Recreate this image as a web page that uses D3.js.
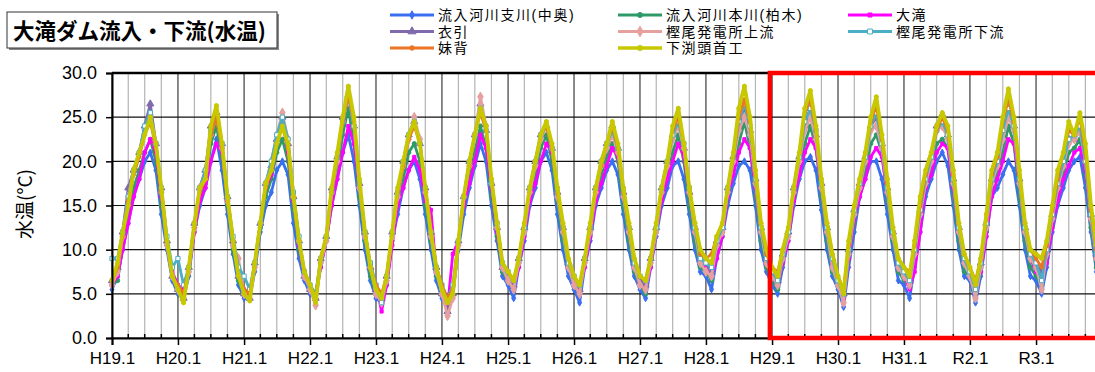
<!DOCTYPE html>
<html>
<head>
<meta charset="utf-8">
<script src="https://cdn.jsdelivr.net/npm/d3@7"></script>
<style>
  body { margin: 0; background: #fff; }
  svg { display: block; }
</style>
</head>
<body>
<svg id="chart" width="1095" height="372"></svg>
<script>
// monthly water temperature, Jan 2007 (H19.1) .. Dec 2021 (R3.12)
const startYear = 2007
const tickLabels = ['H19.1','H20.1','H21.1','H22.1','H23.1','H24.1','H25.1','H26.1','H27.1','H28.1','H29.1','H30.1','H31.1','R2.1','R3.1']
const yTicks = [0, 5, 10, 15, 20, 25, 30]

const seriesNames = ['流入河川支川(中奥)', '流入河川本川(柏木)', '大滝', '衣引', '樫尾発電所上流', '樫尾発電所下流', '妹背', '下渕頭首工']
const seriesColors = ['#3a6ff0', '#2e9a68', '#ff00ff', '#7f6aae', '#e6a0a0', '#4aaec4', '#ec7424', '#c8c800']

const nakaoku = [
  5.5, 7, 10, 13, 16, 18, 20, 21, 19, 14, 10, 6.5,
  5, 4.5, 7, 12, 15, 17, 20, 22.5, 19, 14, 9.5, 6,
  4.5, 4.5, 7.5, 12, 15, 16.5, 19, 20, 18.5, 13, 9, 6.5,
  5, 4.5, 8, 11, 15, 18, 21, 23, 20, 15, 10, 6.5,
  4.5, 4, 6, 11, 14, 17, 19, 20, 18, 14, 10, 6.5,
  4.5, 4, 5, 10, 14, 17, 19.5, 22, 20, 15, 11, 7,
  6, 4.5, 8, 11, 15, 17, 20, 21, 19, 14, 10, 7,
  5.5, 4, 8, 11, 15, 17, 19, 20, 18.5, 14, 10, 7,
  5.5, 4.5, 8, 11.5, 15, 17, 19.5, 20, 18, 14, 10, 7.5,
  7, 5.5, 9, 11.5, 15, 17.5, 19.5, 20, 19, 15, 10, 7.5,
  6, 5, 8, 11, 15, 18, 20, 20.5, 19, 14.5, 10, 7,
  5.5, 3.5, 8, 12, 16, 18, 20, 20, 18, 14, 10, 6.5,
  6, 4.5, 8, 12, 16, 18, 20, 21, 19.5, 15, 10, 7,
  6.5, 4, 7, 11.5, 16, 17, 18.5, 20, 19, 15, 10, 7,
  6.5, 5, 8, 12, 15, 17, 19, 20, 20.5, 17, 12, 7.5
]
const kashiwagi = [
  6, 6.5, 10.5, 14, 17, 19, 21, 22.5, 20, 15, 10.5, 7,
  5.5, 5.5, 7.5, 12.5, 16, 17.5, 22, 24, 20.5, 15, 10, 6.5,
  5, 5, 8, 12.5, 16, 18, 21, 22.5, 20, 14.5, 10, 7,
  5.5, 4.5, 8.5, 11, 16, 19, 23, 26, 22, 16, 11, 7,
  5, 4.5, 6.5, 11.5, 15.5, 18, 21, 22, 20, 15, 11, 7,
  5, 4.5, 5, 10.5, 15, 18.5, 21, 24, 21.5, 16, 11.5, 7.5,
  6.5, 5.5, 8.5, 12, 16, 18.5, 21.5, 23, 20, 15.5, 11, 8,
  6, 5, 8.5, 12, 16, 18.5, 20.5, 22, 20, 15, 11, 7.5,
  6, 5, 8.5, 12, 16, 18.5, 21, 23, 20, 15, 11, 8,
  7.5, 6.5, 10, 12, 16, 19, 22, 24.5, 21.5, 16, 11, 8,
  6.5, 5.5, 8.5, 11.5, 16, 19, 22, 24, 21.5, 16, 11, 7.5,
  6, 4.5, 9, 13, 17, 19, 22, 23, 21, 15.5, 11, 7.5,
  6.5, 6, 9, 13, 17, 19, 22, 22.5, 21.5, 16, 11, 7.5,
  7, 5, 7.5, 12, 17, 18.5, 21, 24, 22, 16, 11, 8,
  7, 6, 9, 13, 16, 18.5, 21, 21.5, 22.5, 18.5, 12.5, 8
]
const otaki = [
  6, 7, 10, 13, 16, 18, 21, 22.5, 21, 16, 11, 7.5,
  6, 5.5, 7.5, 12, 15.5, 17, 20, 22, 21, 16, 11, 7,
  5.5, 5, 8, 13, 17, 18.5, 22, 25, 21, 15.5, 10.5, 7,
  5.5, 5, 8, 11, 15, 18, 21, 24, 22, 17, 12, 8,
  6, 3, 6, 10.5, 15, 17, 19, 20.5, 19, 15.5, 14.5, 7.5,
  6, 3.5, 9.5, 11, 15, 17.5, 20, 23, 21.5, 17, 12, 8,
  7, 5.5, 8, 11.5, 15.5, 17.5, 20, 22, 21, 17, 12.5, 8.5,
  6.5, 5.5, 8, 11.5, 15.5, 17.5, 19.5, 21.5, 20.5, 17, 12, 8.5,
  6.5, 5.5, 8, 12, 15.5, 18, 20, 22, 20.5, 16.5, 12, 9,
  8, 7, 9, 11.5, 16, 18.5, 21, 22.5, 21.5, 17, 12, 9,
  7, 6, 8.5, 11, 15.5, 18.5, 21, 22.5, 21.5, 17, 12, 8.5,
  6.5, 4.5, 9, 13.5, 16, 18, 20.5, 21.5, 20.5, 16.5, 12, 8,
  7, 5.5, 7.5, 12, 17, 18.5, 21, 22, 21.5, 17, 12, 8.5,
  7.5, 6, 7.5, 11.5, 16, 18, 20, 22.5, 22, 17.5, 12, 9,
  7.5, 6.5, 8.5, 12.5, 15.5, 18, 19.5, 21, 21.5, 19, 13.5, 9
]
const kinubiki = [
  6.5, 8, 12, 17, 19, 21, 24, 26.5, 22, 17, 11, 7,
  5.5, 4.5, 8, 13, 17, 19, 24, 25.5, 22, 16, 11, 7,
  5, 4.5, 8.5, 13, 17.5, 19.5, 22.5, 25, 22, 16, 11, 7,
  5.5, 4.5, 9, 11.5, 17, 20.5, 25, 27.5, 24, 17.5, 12, 8,
  5.5, 4.5, 7, 12, 16.5, 20, 23, 24.5, 22, 17, 12, 8,
  5, 3, 5, 11, 16, 20, 23, 26.5, 23.5, 17.5, 12.5, 8,
  7, 6, 9, 12.5, 17, 20, 23, 24, 21.5, 16.5, 12.5, 8.5,
  6.5, 5.5, 9, 12.5, 17, 20, 22, 24, 21.5, 16.5, 12.5, 8.5,
  6.5, 6, 9, 12.5, 17, 20, 23, 24.5, 21.5, 16.5, 12.5, 9,
  8.5, 7.5, 11, 12.5, 17, 20.5, 24, 26, 23.5, 18, 12.5, 9,
  7.5, 6.5, 9.5, 12, 17, 20.5, 24, 26, 23, 17.5, 12.5, 9,
  6.5, 5, 10, 14.5, 17.5, 20.5, 24, 25, 22, 17, 12, 8.5,
  7.5, 6.5, 10, 14.5, 18, 20.5, 24, 25.3, 23, 18, 12.5, 9,
  7.5, 5.5, 8.5, 13, 18, 20, 23.5, 26, 24, 18, 12.5, 9.5,
  8.5, 7.5, 10, 14, 17.5, 20, 22.5, 22.5, 23.5, 20, 14, 9.5
]
const kashioUp = [
  6, 7.5, 11.5, 16, 19, 21, 23.5, 25, 22, 16.5, 10.5, 7,
  5.5, 4.5, 7.5, 12.5, 17, 19, 23, 25, 21.5, 15.5, 10.5, 9,
  5, 4.5, 8, 13, 17.5, 20, 23, 25.5, 22.5, 16, 11, 7,
  5.5, 3.7, 8.5, 11, 16.5, 20, 24.5, 27.5, 24, 17, 11.5, 8,
  5, 4, 6.5, 11.5, 16, 19.5, 22.5, 25, 22.5, 16.5, 11.5, 7.5,
  5, 2.5, 4.5, 10.5, 16, 19.5, 23, 27.3, 24, 17.5, 12.5, 8,
  6.5, 5.5, 8.5, 12, 16.5, 19.5, 22.5, 24, 21.5, 16, 12, 8,
  6, 5, 8.5, 12, 16.5, 19.5, 21.5, 23, 21, 16, 12, 8,
  6, 5.5, 8.5, 12, 16.5, 19.5, 22.5, 24, 21.5, 16.5, 12, 8.5,
  7.5, 7, 10.5, 12, 16.5, 20, 23.5, 25, 23, 17.5, 12, 8.5,
  7, 6, 9, 11.5, 16.5, 20, 23.5, 25, 22.5, 17, 12, 8,
  6, 4, 9.5, 14, 17, 20, 23.5, 24, 21.5, 16.5, 11.5, 8,
  7, 6, 9.5, 14, 17.5, 20, 23.5, 24, 22.5, 17.5, 12, 8.5,
  7, 4.5, 8, 12.5, 17.5, 19.5, 22.5, 25, 23.5, 17.5, 12, 9,
  8, 5.5, 9.5, 13.5, 17, 19.5, 22, 22.5, 23.5, 20, 13.5, 9
]
const kashioDown = [
  9, 9, 12, 16, 19, 21, 24, 25.5, 22, 17, 11.5, 8,
  9, 6, 8, 13, 17, 19, 23.5, 25, 22, 16, 11.5, 8,
  7, 5.5, 8.5, 13, 17.5, 20, 23, 25, 22.5, 16.5, 11.5, 7.5,
  6, 5, 9, 11.5, 16.5, 20.5, 24.5, 27.5, 24, 17.5, 12, 8.5,
  6, 4, 7, 12, 16.5, 20, 23, 24.5, 22, 17, 12, 8,
  6, 4.5, 6, 11, 16, 20, 23, 26, 23.5, 17.5, 13, 8.5,
  7.5, 6.5, 9, 12.5, 17, 20, 23, 24, 21.5, 16.5, 12.5, 8.5,
  7, 6, 9, 12.5, 17, 20, 22, 23.5, 21.5, 16.5, 12.5, 8.5,
  7, 6.5, 9, 12.5, 17, 20, 23, 24.5, 22, 17, 12.5, 9,
  8.5, 8, 11, 12.5, 17, 20.5, 24.5, 26.5, 24, 18, 12.5, 9,
  7.5, 6.5, 9.5, 12, 17, 20.5, 24.5, 26, 23.5, 17.5, 12.5, 9,
  6.5, 5, 10, 14.5, 17.5, 20.5, 24, 25.5, 22, 17, 12, 8.5,
  7.5, 6.5, 10, 14.5, 18, 20.5, 23.5, 24.5, 23, 18, 12.5, 9,
  7.5, 5.5, 8.5, 13, 18, 20, 23.5, 26, 24, 18, 12.5, 9.5,
  8.5, 6.5, 10, 14, 17.5, 20, 22.5, 23, 24, 20, 14, 9.5
]
const imose = [
  6.5, 8, 11.5, 15.5, 18.5, 20.5, 23, 24.5, 21.5, 16.5, 11, 7,
  6, 5, 8, 12.5, 16.5, 18, 23, 25, 21.5, 15.5, 11, 7,
  5.5, 5, 8.5, 13, 17, 19, 22, 24, 21.5, 16, 11, 7.5,
  6, 4.5, 9, 11.5, 16.5, 20.5, 24.5, 27.5, 24.5, 17.5, 12, 8,
  6, 5, 7, 12, 16.5, 19.5, 22.5, 24, 22, 17, 12, 8,
  6, 4.5, 5.5, 11, 16, 19.5, 23, 25.5, 23.5, 18, 13, 8.5,
  7.5, 6.5, 9, 13, 17, 20, 23, 24, 21.5, 16.5, 12.5, 9,
  7, 6, 9, 12.5, 17, 19.5, 22, 24, 21.5, 16.5, 12.5, 9,
  7, 6.5, 9, 13, 17, 20, 23.5, 25, 22, 17, 13, 9.5,
  9, 9.5, 11.5, 13, 17, 20.5, 25, 27, 24.5, 18.5, 13, 9.5,
  8, 7.5, 10, 12.5, 17, 21, 25.5, 27, 23.5, 18, 13, 9.5,
  7, 5.5, 10.5, 15, 18, 21, 24.5, 26.3, 22.5, 17.5, 12.5, 9,
  8, 7.5, 10.5, 15, 18.5, 21, 23.5, 25, 23.5, 18.5, 13, 9.5,
  8, 6.5, 9, 13.5, 18.5, 20.5, 24.5, 27, 24.5, 18.5, 13, 10,
  9, 8, 10.5, 14.5, 18, 21, 23.5, 23, 25, 21, 14.5, 10
]
const shimobuchi = [
  6.5, 8.5, 12, 15, 19, 21, 23, 25, 22, 17, 11, 7,
  5.5, 4, 8, 13, 17, 18, 24, 26.3, 22, 16, 11, 7,
  5, 4.2, 8.5, 13, 17.5, 19, 22, 24, 22, 16, 11, 7.5,
  6, 4, 9, 11.5, 17, 21, 25, 28.5, 25, 18, 12, 8,
  5.5, 4.5, 7, 12, 17, 20, 23, 24.5, 22, 17, 12, 8,
  5.5, 4, 5, 11, 16, 20, 23, 26, 24, 18, 13, 8.5,
  7.5, 6.5, 9, 13, 17, 20, 23, 24.5, 22, 17, 13, 9,
  7, 6, 9, 13, 17, 20, 22, 24.5, 22, 17, 13, 9,
  7, 6.5, 9, 13, 17, 20, 24, 26, 22, 17, 13, 10,
  9, 8.5, 11.5, 13, 17, 21, 26, 28.5, 25, 19, 13, 10,
  8, 7, 10, 12.5, 17, 21, 26, 28, 24, 18, 13, 9.5,
  7, 5, 11, 15, 18, 21, 25, 27.3, 23, 18, 12.5, 9,
  8, 7, 11, 16, 19, 21, 24, 25.5, 24, 19, 13, 9.5,
  8, 6, 9, 14, 19, 21, 25, 28.2, 25, 19, 13, 10,
  9.5, 9, 11, 15, 19, 21, 24.5, 23, 25.5, 22, 15, 10.5
]

const seriesValues = [nakaoku, kashiwagi, otaki, kinubiki, kashioUp, kashioDown, imose, shimobuchi]
const symbolTypes = [d3.symbolDiamond, d3.symbolCircle, d3.symbolSquare, d3.symbolTriangle, d3.symbolDiamond, d3.symbolSquare, d3.symbolCircle, d3.symbolCircle]
const symbolSizes = [14, 14, 10, 22, 26, 18, 10, 14]

const svg = d3.select('#chart')
const plot = { left: 112, right: 1102, top: 73, bottom: 338 }

const x = d3.scaleTime()
  .domain([new Date(startYear, 0, 1), new Date(startYear + 15, 0, 1)])
  .range([plot.left, plot.right])
const y = d3.scaleLinear().domain([0, 30]).range([plot.bottom, plot.top])

const monthDate = i => new Date(startYear + Math.floor(i / 12), i % 12, 1)

// grid
const quarters = d3.timeMonth.every(3).range(new Date(startYear, 0, 1), new Date(startYear + 15, 0, 2))
svg.append('g').selectAll('line')
  .data(quarters.filter(d => d.getMonth() !== 0))
  .join('line')
  .attr('x1', d => x(d)).attr('x2', d => x(d))
  .attr('y1', plot.top).attr('y2', plot.bottom)
  .attr('stroke', '#b4b4b4').attr('stroke-width', 1.2)
svg.append('g').selectAll('line')
  .data(quarters.filter(d => d.getMonth() === 0))
  .join('line')
  .attr('x1', d => x(d)).attr('x2', d => x(d))
  .attr('y1', plot.top).attr('y2', plot.bottom)
  .attr('stroke', '#3c3c3c').attr('stroke-width', 1.2)
svg.append('g').selectAll('line')
  .data(yTicks)
  .join('line')
  .attr('x1', plot.left).attr('x2', plot.right)
  .attr('y1', d => y(d)).attr('y2', d => y(d))
  .attr('stroke', '#111').attr('stroke-width', 1.2)

// series
const line = d3.line().x((d, i) => x(monthDate(i))).y(d => y(d))
seriesValues.forEach((vals, k) => {
  const g = svg.append('g')
  g.append('path')
    .datum(vals)
    .attr('fill', 'none')
    .attr('stroke', seriesColors[k])
    .attr('stroke-width', k === 7 ? 3.8 : 2.8)
    .attr('stroke-linejoin', 'round')
    .attr('d', line)
  g.selectAll('path.m')
    .data(vals)
    .join('path')
    .attr('class', 'm')
    .attr('transform', (d, i) => `translate(${x(monthDate(i))},${y(d)})`)
    .attr('d', d3.symbol().type(symbolTypes[k]).size(symbolSizes[k]))
    .attr('fill', k === 5 ? '#fff' : seriesColors[k])
    .attr('stroke', seriesColors[k])
    .attr('stroke-width', 1)
})

// axes
const xAxis = svg.append('g').attr('transform', `translate(0,${plot.bottom})`)
  .call(d3.axisBottom(x)
    .tickValues(d3.range(15).map(i => new Date(startYear + i, 0, 1)))
    .tickFormat((d, i) => tickLabels[i])
    .tickSize(7).tickPadding(7))
xAxis.select('.domain').attr('stroke', '#000').attr('stroke-width', 2)
xAxis.selectAll('.tick line').attr('stroke', '#000').attr('stroke-width', 1.5)
xAxis.selectAll('.tick text').attr('font-family', 'Liberation Sans, Arial, sans-serif').attr('font-size', 17).attr('fill', '#000')
svg.append('g').selectAll('line')
  .data(quarters.filter(d => d.getMonth() !== 0))
  .join('line')
  .attr('x1', d => x(d)).attr('x2', d => x(d))
  .attr('y1', plot.bottom - 4).attr('y2', plot.bottom)
  .attr('stroke', '#000').attr('stroke-width', 1.5)

const yAxis = svg.append('g').attr('transform', `translate(${plot.left},0)`)
  .call(d3.axisLeft(y).tickValues(yTicks).tickFormat(d3.format('.1f')).tickSize(6).tickPadding(9))
yAxis.select('.domain').attr('stroke', '#000').attr('stroke-width', 2)
yAxis.selectAll('.tick line').attr('stroke', '#000').attr('stroke-width', 1.5)
yAxis.selectAll('.tick text').attr('font-family', 'Liberation Sans, Arial, sans-serif').attr('font-size', 18).attr('fill', '#000')

svg.append('line')
  .attr('x1', plot.left).attr('x2', plot.right).attr('y1', plot.top).attr('y2', plot.top)
  .attr('stroke', '#000').attr('stroke-width', 2.5)

svg.append('text')
  .attr('transform', 'translate(32,204) rotate(-90)')
  .attr('text-anchor', 'middle')
  .attr('font-family', 'Noto Sans CJK JP, sans-serif')
  .attr('font-size', 19)
  .text('水温(°C)')

// highlight box from H29
const boxX = x(new Date(2016, 11, 20))
svg.append('rect')
  .attr('x', boxX)
  .attr('y', plot.top)
  .attr('width', plot.right - boxX + 10)
  .attr('height', plot.bottom - plot.top)
  .attr('fill', 'none')
  .attr('stroke', '#ff0000')
  .attr('stroke-width', 4.5)

// title box
svg.append('rect')
  .attr('x', 9).attr('y', 14).attr('width', 270).attr('height', 36)
  .attr('fill', '#888')
svg.append('rect')
  .attr('x', 7).attr('y', 12).attr('width', 270).attr('height', 36)
  .attr('fill', '#fff').attr('stroke', '#333').attr('stroke-width', 1)
svg.append('text')
  .attr('x', 13).attr('y', 38.5)
  .attr('font-family', 'Noto Sans CJK JP, sans-serif')
  .attr('font-weight', 'bold')
  .attr('font-size', 21.5)
  .text('大滝ダム流入・下流(水温)')

// legend, filled row by row in 3 columns
const legX = [390, 618, 848], legY = [15, 31.5, 48]
const leg = svg.append('g')
seriesNames.forEach((name, k) => {
  const cx = legX[k % 3], cy = legY[Math.floor(k / 3)]
  const g = leg.append('g').attr('transform', `translate(${cx},${cy})`)
  g.append('line').attr('x1', 0).attr('x2', 44).attr('y1', 0).attr('y2', 0)
    .attr('stroke', seriesColors[k]).attr('stroke-width', k === 7 ? 3.5 : 3)
  g.append('path')
    .attr('transform', 'translate(22,0)')
    .attr('d', d3.symbol().type(symbolTypes[k]).size(symbolSizes[k] + 6))
    .attr('fill', k === 5 ? '#fff' : seriesColors[k])
    .attr('stroke', seriesColors[k])
  g.append('text')
    .attr('x', 48).attr('y', 5)
    .attr('font-family', 'Liberation Sans, Noto Sans CJK JP, sans-serif')
    .attr('font-size', 14)
    .attr('letter-spacing', 1.6)
    .text(name)
})
</script>
</body>
</html>
